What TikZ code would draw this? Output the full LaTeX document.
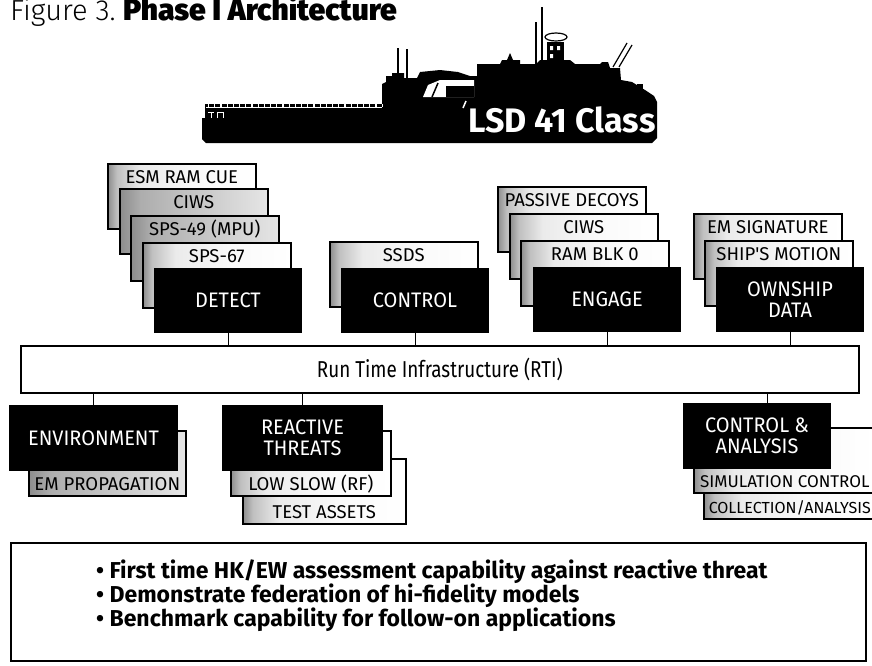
\documentclass[tikz,border=0pt]{standalone}
\usepackage{fontspec}
\usepackage{tikz}
\usetikzlibrary{shadows}
\newfontfamily\titlefont{Fira Sans Light}
\newfontfamily\labelfont{Fira Sans}[FakeStretch=0.95]
\newfontfamily\sublabelfont{Fira Sans}
\newfontfamily\rtifont{Fira Sans}[FakeStretch=0.82]
\newfontfamily\heavyfont{Fira Sans Black}
\newfontfamily\bulletfont{Fira Sans Bold}
% grey wash on the left side of the stacked boxes
\pgfdeclarehorizontalshading{speckle}{100bp}{color(0bp)=(black!45); color(25bp)=(black!45); color(28bp)=(black!25); color(36bp)=(black!8); color(55bp)=(black!2); color(75bp)=(white); color(100bp)=(white)}
\pgfdeclarehorizontalshading{speckledark}{100bp}{color(0bp)=(black!45); color(25bp)=(black!45); color(32bp)=(black!32); color(75bp)=(black!10); color(100bp)=(black!10)}

\begin{document}
\begin{tikzpicture}[x=1pt,y=-1pt,
    mainbox/.style={fill=black, draw=black, line width=1pt, text=white, anchor=north west,
      minimum width=147pt, minimum height=64pt, align=center,
      font=\labelfont\fontsize{21}{21}\selectfont},
    subbox/.style={draw=black, line width=1.6pt, shading=speckle, anchor=north west,
      drop shadow={opacity=1, fill=black, shadow xshift=1.5pt, shadow yshift=-1.5pt},
      minimum width=148pt, text height=13pt, text depth=38pt, inner ysep=7pt,
      font=\sublabelfont\fontsize{18.5}{19}\selectfont},
    lowbox/.style={subbox, text height=56pt, text depth=2pt, inner ysep=3.5pt},
    link/.style={line width=1pt}]
  \useasboundingbox (0,0) rectangle (872,665);

  % heading
  \node[anchor=base west, inner sep=0, font=\titlefont\fontsize{29}{29}\selectfont] (fig) at (10,20.5) {Figure 3.};
  \node[anchor=base west, inner sep=0, font=\heavyfont\fontsize{30}{30}\selectfont] (phase) at (123,20.5) {Phase I Architecture};

  % ship silhouette
  \fill[black] (206,143) -- (202,139) -- (202,118) -- (205,118) -- (205,104) -- (382,104)
    -- (382,84) -- (386,82) -- (386,76) -- (392,76) -- (392,73) -- (404,73) -- (404,78)
    -- (417,78) -- (420,72) -- (440,70) -- (458,72) -- (470,76) -- (477,76) -- (477,64)
    -- (500,64) -- (502,60) -- (520,60) -- (520,64) -- (536,64) -- (540,60) -- (570,60)
    -- (575,64) -- (600,64) -- (602,62) -- (608,62) -- (610,68) -- (620,68) -- (621,80)
    -- (632,82) -- (645,90) -- (654,96) -- (657,102) -- (657,138) -- (652,143) -- cycle;
  \draw[line width=2pt] (398,78) -- (398,48) (407,78) -- (407,49);
  \draw[line width=1.5pt] (542,64) -- (542,7) (536,64) -- (536,22);
  \fill (547,42) rectangle (564,64);
  \fill[white] (550,46) rectangle (553,50) (557,46) rectangle (560,50) (550,54) rectangle (553,58);
  \draw[line width=1.2pt] (556,37) ellipse (11 and 4);
  \fill (510,53) -- (513,60) -- (510,66) -- (507,60) -- cycle;
  \draw[line width=1.2pt] (613,67) -- (627,43) (619,67) -- (632,45);
  \fill (637,93) rectangle (643,84);
  \fill[white] (423,97) -- (428,85) -- (440,80) -- (474,80) -- (474,97) -- cycle;
  \fill (446,86) rectangle (474,97);
  \draw[line width=1.5pt] (432,97) -- (438,83);
  \draw[white, line width=1pt] (206,107.5) -- (382,107.5);
  \draw[white, line width=3.5pt, dash pattern=on 1.2pt off 5pt] (208,105.5) -- (382,105.5);
  \draw[white, line width=1pt] (208,112) -- (214,112) (211,112) -- (211,118)
    (217,118) -- (217,112) -- (223,112) -- (223,118);
  \draw[white, line width=1.5pt] (466,101) -- (463,108);
  \node[anchor=base west, inner sep=0, text=white, font=\bulletfont\fontsize{34}{34}\selectfont] (cls) at (468,132) {LSD 41 Class};

  % detect stack
  \node[subbox] (esm) at (107,163) {ESM RAM CUE};
  \node[subbox, shading=speckledark] (ciwsd) at (119,188) {CIWS};
  \node[subbox, shading=speckledark] (sps49) at (130,215) {SPS-49 (MPU)};
  \node[subbox] (sps67) at (142,242) {SPS-67};
  \node[mainbox] (detect) at (154,268) {DETECT};

  % control stack
  \node[subbox] (ssds) at (329,241) {SSDS};
  \node[mainbox] (control) at (341,268) {CONTROL};

  % engage stack
  \node[subbox] (decoys) at (497,186) {PASSIVE DECOYS};
  \node[subbox] (ciwse) at (509,213) {CIWS};
  \node[subbox] (ramblk) at (520,240) {RAM BLK 0};
  \node[mainbox] (engage) at (533,267) {ENGAGE};

  % ownship stack
  \node[subbox] (emsig) at (693,213) {EM SIGNATURE};
  \node[subbox] (motion) at (704,240) {SHIP'S MOTION};
  \node[mainbox] (ownship) at (716,267) {OWNSHIP\\DATA};

  % RTI bus
  \node[draw=black, line width=1.6pt, fill=white, anchor=north west,
    drop shadow={opacity=1, fill=black, shadow xshift=1.5pt, shadow yshift=-1.5pt},
    minimum width=838pt, minimum height=47pt,
    font=\rtifont\fontsize{23}{23}\selectfont] (rti) at (20,345) {Run Time Infrastructure (RTI)};

  % lower stacks
  \node[lowbox, shading=speckledark, minimum width=157pt] (emprop) at (28,430) {EM PROPAGATION};
  \node[mainbox, minimum width=168pt, minimum height=65pt] (envir) at (9,405) {ENVIRONMENT};

  \node[lowbox, minimum width=163pt] (assets) at (242,458) {TEST ASSETS};
  \node[lowbox, minimum width=160pt] (lowslow) at (230,430) {LOW SLOW (RF)};
  \node[mainbox, minimum width=160pt, minimum height=65pt] (threats) at (222,405) {REACTIVE\\THREATS};

  \node[lowbox, minimum width=172pt, font=\sublabelfont\fontsize{16}{16}\selectfont] (collect) at (703,453) {COLLECTION/ANALYSIS};
  \node[lowbox, minimum width=182pt, font=\sublabelfont\fontsize{17}{17}\selectfont] (simctrl) at (693,427) {SIMULATION CONTROL};
  \node[mainbox, minimum height=65pt] (cana) at (683,403) {CONTROL \&\\ANALYSIS};

  % links to the bus
  \foreach \n in {detect,control,engage,ownship}
    \draw[link] (\n.south) -- (\n.south |- rti.north);
  \coordinate (catap) at ([xshift=10pt]cana.north);
  \draw[link] (envir.north) -- (envir.north |- rti.south);
  \draw[link] (threats.north) -- (threats.north |- rti.south);
  \draw[link] (catap) -- (catap |- rti.south);

  % summary box
  \node[draw=black, line width=1.6pt, fill=white, anchor=north west,
    drop shadow={opacity=1, fill=black, shadow xshift=1.5pt, shadow yshift=-1.5pt},
    minimum width=855pt, minimum height=118pt] (facts) at (10,542) {};
  \node[anchor=north west, inner sep=0, align=left,
    font=\bulletfont\fontsize{23}{24}\selectfont] (points) at (96,559.5)
    {\textbullet\ First time HK/EW assessment capability against reactive threat\\
     \textbullet\ Demonstrate federation of hi-fidelity models\\
     \textbullet\ Benchmark capability for follow-on applications};
\end{tikzpicture}
\end{document}
